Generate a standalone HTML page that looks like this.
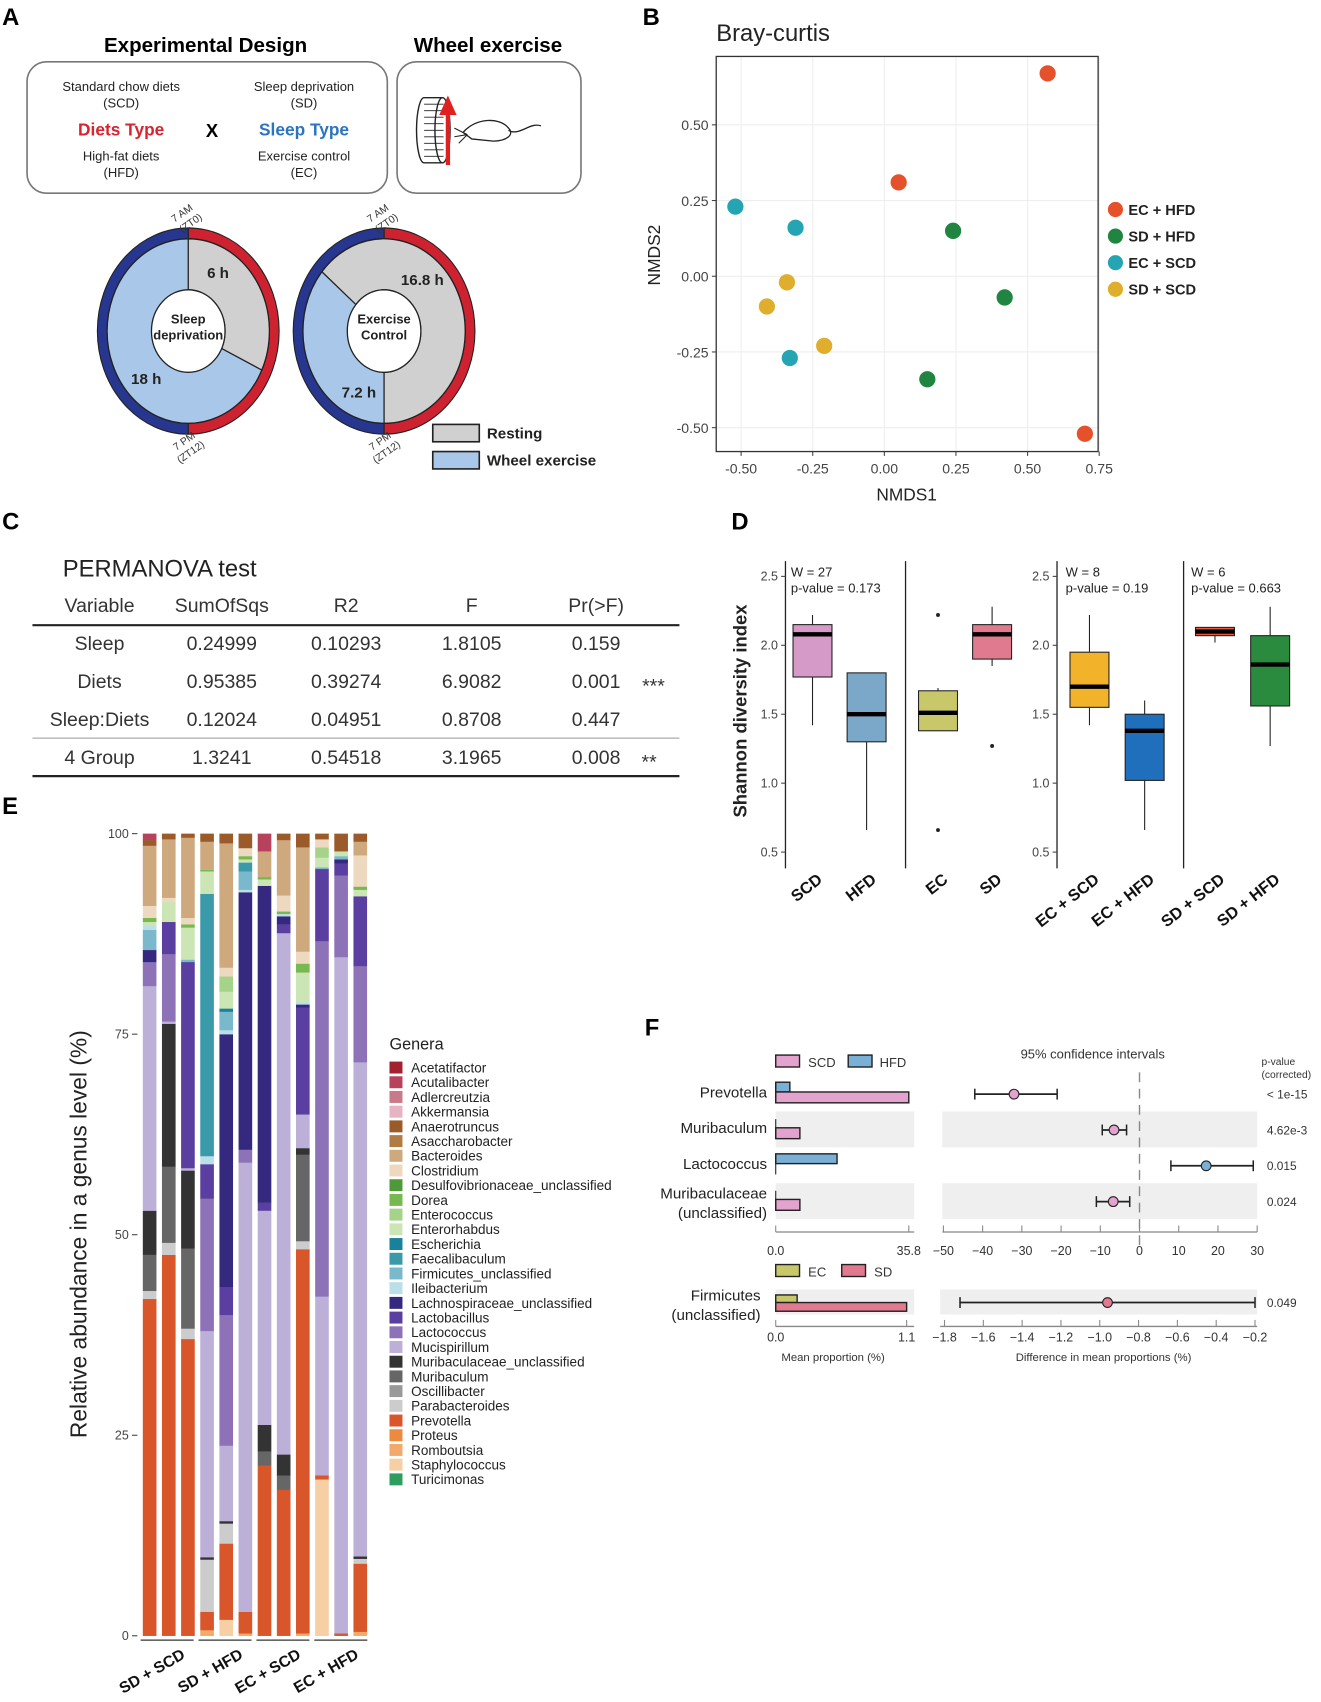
<!DOCTYPE html>
<html><head><meta charset="utf-8"><style>
html,body{margin:0;padding:0;background:#fff}
svg{display:block}
text{font-family:"Liberation Sans",Arial,sans-serif}
</style></head><body>
<svg id="fig" width="1321" height="1702" viewBox="0 0 1221 1568" preserveAspectRatio="none" xmlns="http://www.w3.org/2000/svg">
<rect width="1221" height="1568" fill="#fff"/>
<g font-weight="bold" font-size="22" fill="#000">
<text x="2" y="23">A</text><text x="594" y="23">B</text><text x="2" y="488">C</text>
<text x="676" y="488">D</text><text x="2" y="750">E</text><text x="596" y="954">F</text>
</g>

<g>
<text x="190" y="48" text-anchor="middle" font-size="19" font-weight="bold">Experimental Design</text>
<text x="451" y="48" text-anchor="middle" font-size="19" font-weight="bold">Wheel exercise</text>
<rect x="25" y="57" width="333" height="121" rx="18" fill="none" stroke="#777" stroke-width="1.5"/>
<rect x="367" y="57" width="170" height="121" rx="18" fill="none" stroke="#777" stroke-width="1.5"/>
<g font-size="12" text-anchor="middle" fill="#222">
<text x="112" y="84">Standard chow diets</text><text x="112" y="99">(SCD)</text>
<text x="112" y="148">High-fat diets</text><text x="112" y="163">(HFD)</text>
<text x="281" y="84">Sleep deprivation</text><text x="281" y="99">(SD)</text>
<text x="281" y="148">Exercise control</text><text x="281" y="163">(EC)</text>
</g>
<text x="112" y="125" text-anchor="middle" font-size="16" font-weight="bold" fill="#d9232e">Diets Type</text>
<text x="281" y="125" text-anchor="middle" font-size="16" font-weight="bold" fill="#2a74c0">Sleep Type</text>
<text x="196" y="126" text-anchor="middle" font-size="17" font-weight="bold">X</text>
<g>
<ellipse cx="392" cy="120" rx="7" ry="30" fill="#fff" stroke="#222" stroke-width="1.3"/>
<rect x="392" y="90" width="17" height="60" fill="#fff" stroke="none"/>
<g stroke="#222" stroke-width="0.8">
<line x1="392" y1="96" x2="410" y2="96"/><line x1="392" y1="102" x2="410" y2="102"/><line x1="392" y1="108" x2="410" y2="108"/><line x1="392" y1="114" x2="410" y2="114"/><line x1="392" y1="120" x2="410" y2="120"/><line x1="392" y1="126" x2="410" y2="126"/><line x1="392" y1="132" x2="410" y2="132"/><line x1="392" y1="138" x2="410" y2="138"/><line x1="392" y1="144" x2="410" y2="144"/>
</g>
<line x1="392" y1="90" x2="409" y2="90" stroke="#222" stroke-width="1.3"/>
<line x1="392" y1="150" x2="409" y2="150" stroke="#222" stroke-width="1.3"/>
<ellipse cx="409" cy="120" rx="7" ry="30" fill="none" stroke="#222" stroke-width="1.3"/>
<path d="M414 152 L414 102" stroke="#e02020" stroke-width="4"/>
<path d="M406 106 L414 88 L422 106 Z" fill="#e02020"/>
<path d="M428 122 C440 108 462 108 470 118 C476 124 468 130 456 130 L436 128 Z M470 120 C480 126 490 112 500 116" fill="none" stroke="#222" stroke-width="1.2"/>
<path d="M420 118 L432 124 M420 126 L432 124 M424 132 L432 124" stroke="#222" stroke-width="1"/>
</g>
</g>
<g id="donuts"></g>
<g>
<rect x="400" y="391" width="43" height="16" fill="#d0d0d0" stroke="#222" stroke-width="1.5"/>
<text x="450" y="404" font-size="14" font-weight="bold" fill="#222">Resting</text>
<rect x="400" y="416" width="43" height="16" fill="#a9c7e8" stroke="#222" stroke-width="1.5"/>
<text x="450" y="429" font-size="14" font-weight="bold" fill="#222">Wheel exercise</text>
</g>

<g id="scatter">
<text x="662" y="38" font-size="22" fill="#222">Bray-curtis</text>
</g>

<g>
<text x="58" y="531" font-size="22" fill="#222">PERMANOVA test</text>
<g font-size="18" fill="#333" text-anchor="middle">
<text x="92" y="564">Variable</text><text x="205" y="564">SumOfSqs</text><text x="320" y="564">R2</text><text x="436" y="564">F</text><text x="551" y="564">Pr(&gt;F)</text>
<text x="92" y="599">Sleep</text><text x="205" y="599">0.24999</text><text x="320" y="599">0.10293</text><text x="436" y="599">1.8105</text><text x="551" y="599">0.159</text>
<text x="92" y="634">Diets</text><text x="205" y="634">0.95385</text><text x="320" y="634">0.39274</text><text x="436" y="634">6.9082</text><text x="551" y="634">0.001</text>
<text x="92" y="669">Sleep:Diets</text><text x="205" y="669">0.12024</text><text x="320" y="669">0.04951</text><text x="436" y="669">0.8708</text><text x="551" y="669">0.447</text>
<text x="92" y="704">4 Group</text><text x="205" y="704">1.3241</text><text x="320" y="704">0.54518</text><text x="436" y="704">3.1965</text><text x="551" y="704">0.008</text>
<text x="604" y="638">***</text><text x="600" y="708">**</text>
</g>
<line x1="30" y1="576" x2="628" y2="576" stroke="#222" stroke-width="2"/>
<line x1="30" y1="680" x2="628" y2="680" stroke="#999" stroke-width="1"/>
<line x1="30" y1="715" x2="628" y2="715" stroke="#222" stroke-width="2"/>
</g>

<g id="boxes">
<text transform="translate(690,655) rotate(-90)" text-anchor="middle" font-size="17" font-weight="bold" fill="#222">Shannon diversity index</text>
</g>

<g id="stack">
<text transform="translate(80,1137) rotate(-90)" text-anchor="middle" font-size="21" fill="#222">Relative abundance in a genus level (%)</text>
<text x="360" y="967" font-size="15" fill="#222">Genera</text>
</g>

<g id="extbar"></g>
</svg>

<script>
var NS="http://www.w3.org/2000/svg";
function mk(parent,tag,attrs,txt){var e=document.createElementNS(NS,tag);for(var k in attrs)e.setAttribute(k,attrs[k]);if(txt!==undefined)e.textContent=txt;parent.appendChild(e);return e;}

/* ---------- Panel A donuts ---------- */
var donutNames=["Sleep deprivation","Exercise Control"];
var restStartDeg=[0,-50];
var restEndDeg=[115,180];
var restHours=["6 h","16.8 h"];
var exHours=["18 h","7.2 h"];
(function(){
 var g=document.getElementById('donuts');
 var centers=[[174,305],[355,305]];
 function pt(cx,cy,rx,ry,deg){var a=(deg-90)*Math.PI/180;return [cx+rx*Math.cos(a),cy+ry*Math.sin(a)];}
 function arc(cx,cy,rx,ry,rix,riy,d0,d1){var p0=pt(cx,cy,rx,ry,d0),p1=pt(cx,cy,rx,ry,d1),q1=pt(cx,cy,rix,riy,d1),q0=pt(cx,cy,rix,riy,d0);var lg=(d1-d0)>180?1:0;
  return "M"+p0+" A"+rx+" "+ry+" 0 "+lg+" 1 "+p1+" L"+q1+" A"+rix+" "+riy+" 0 "+lg+" 0 "+q0+" Z";}
 for(var i=0;i<2;i++){
  var cx=centers[i][0],cy=centers[i][1];
  var dg=mk(g,'g',{});
  
  
  mk(dg,'path',{d:arc(cx,cy,84,95,75,85,0,180),fill:'#cf2230',stroke:'#222','stroke-width':1});
  mk(dg,'path',{d:arc(cx,cy,84,95,75,85,180,360),fill:'#27368f',stroke:'#222','stroke-width':1});
  var s=restStartDeg[i],e=restEndDeg[i];
  mk(dg,'ellipse',{cx:cx,cy:cy,rx:75,ry:85,fill:'#a9c7e8',stroke:'#222','stroke-width':1.2});
  mk(dg,'path',{d:arc(cx,cy,75,85,34,38,s,e),fill:'#d0d0d0',stroke:'#222','stroke-width':1.2});
  mk(dg,'ellipse',{cx:cx,cy:cy,rx:34,ry:38,fill:'#fff',stroke:'#222','stroke-width':1.2});
  var w=donutNames[i].split(' ');
  mk(dg,'text',{x:cx,y:cy-7,'text-anchor':'middle','font-size':12,'font-weight':'bold',fill:'#222'},w[0]);
  mk(dg,'text',{x:cx,y:cy+8,'text-anchor':'middle','font-size':12,'font-weight':'bold',fill:'#222'},w[1]);
  var rp=pt(cx,cy,55,62,i==0?30:40), ep=pt(cx,cy,55,62,i==0?225:205);
  mk(dg,'text',{x:rp[0],y:rp[1]+5,'text-anchor':'middle','font-size':14,'font-weight':'bold',fill:'#222'},restHours[i]);
  mk(dg,'text',{x:ep[0],y:ep[1]+5,'text-anchor':'middle','font-size':14,'font-weight':'bold',fill:'#222'},exHours[i]);
  mk(dg,'text',{transform:'translate('+(cx-4)+','+(cy-106)+') rotate(-35)','text-anchor':'middle','font-size':9.5,fill:'#333'},'7 AM');
  mk(dg,'text',{transform:'translate('+(cx+4)+','+(cy-97)+') rotate(-35)','text-anchor':'middle','font-size':9.5,fill:'#333'},'(ZT0)');
  mk(dg,'text',{transform:'translate('+(cx-2)+','+(cy+104)+') rotate(-35)','text-anchor':'middle','font-size':9.5,fill:'#333'},'7 PM');
  mk(dg,'text',{transform:'translate('+(cx+4)+','+(cy+114)+') rotate(-35)','text-anchor':'middle','font-size':9.5,fill:'#333'},'(ZT12)');
 }
})();

/* ---------- Panel B scatter ---------- */
var groupNames=["EC + HFD","SD + HFD","EC + SCD","SD + SCD"];
var groupColors=["#e4512a","#1f8540","#25a5b4","#dfae2c"];
var nmds1=[[0.57,0.05,0.70],[0.24,0.42,0.15],[-0.52,-0.31,-0.33],[-0.34,-0.41,-0.21]];
var nmds2=[[0.67,0.31,-0.52],[0.15,-0.07,-0.34],[0.23,0.16,-0.27],[-0.02,-0.10,-0.23]];
var xTicksB=[-0.5,-0.25,0,0.25,0.5,0.75];
var xTickLabB=["-0.50","-0.25","0.00","0.25","0.50","0.75"];
var yTicksB=[0.5,0.25,0,-0.25,-0.5];
var yTickLabB=["0.50","0.25","0.00","-0.25","-0.50"];
(function(){
 var g=document.getElementById('scatter');
 function X(v){return 685+(v+0.5)*264.8;} function Y(v){return 254.5-v*279;}
 var L=662,R=1015,T=52,B=416;
 for(var i=0;i<xTicksB.length;i++){var x=X(xTicksB[i]);mk(g,'line',{x1:x,y1:T,x2:x,y2:B,stroke:'#eee','stroke-width':1});
  mk(g,'line',{x1:x,y1:B,x2:x,y2:B+4,stroke:'#444'});
  var t=mk(g,'text',{x:x,y:B+20,'text-anchor':'middle','font-size':13,fill:'#444'},xTickLabB[i]);
  
  }
 for(var i=0;i<yTicksB.length;i++){var y=Y(yTicksB[i]);mk(g,'line',{x1:L,y1:y,x2:R,y2:y,stroke:'#eee','stroke-width':1});
  mk(g,'line',{x1:L-4,y1:y,x2:L,y2:y,stroke:'#444'});
  var t=mk(g,'text',{x:L-7,y:y+5,'text-anchor':'end','font-size':13,fill:'#444'},yTickLabB[i]);
  
  }
 mk(g,'rect',{x:L,y:T,width:R-L,height:B-T,fill:'none',stroke:'#333','stroke-width':1.2});
 for(var k=0;k<groupNames.length;k++){
  for(var j=0;j<nmds1[k].length;j++){var c=mk(g,'circle',{cx:X(nmds1[k][j]),cy:Y(nmds2[k][j]),r:7.5,fill:groupColors[k]});
   
   }
  var ly=193+k*24.5;
  var le=mk(g,'g',{});
  
  
  mk(le,'circle',{cx:1031,cy:ly,r:7,fill:groupColors[k]});
  mk(le,'text',{x:1043,y:ly+5,'font-size':13.5,'font-weight':'bold',fill:'#222'},groupNames[k]);
 }
 var a=mk(g,'text',{x:838,y:461,'text-anchor':'middle','font-size':16,fill:'#222'},'NMDS1');
 
 var b=mk(g,'text',{transform:'translate(610,235) rotate(-90)','text-anchor':'middle','font-size':16,fill:'#222'},'NMDS2');
 
})();

/* ---------- Panel D boxplots ---------- */
var boxLabels=["SCD","HFD","EC","SD","EC + SCD","EC + HFD","SD + SCD","SD + HFD"];
var boxColors=["#d59ac8","#7ba7c9","#c8c86b","#e07a8e","#f2b32b","#1f6fbd","#e8593c","#2a8a3e"];
var boxQ1=[1.77,1.30,1.38,1.90,1.55,1.02,2.07,1.56];
var boxMed=[2.08,1.50,1.51,2.08,1.70,1.38,2.10,1.86];
var boxQ3=[2.15,1.80,1.67,2.15,1.95,1.50,2.13,2.07];
var boxLo=[1.42,0.66,1.40,1.85,1.42,0.66,2.02,1.27];
var boxHi=[2.22,1.80,1.69,2.28,2.22,1.60,2.13,2.28];
var boxOut=[[],[],[2.22,0.66],[1.27],[],[],[],[]];
var facetW=["W = 27","W = 8","W = 6"];
var facetP=["p-value = 0.173","p-value = 0.19","p-value = 0.663"];
var yTicksD=[2.5,2.0,1.5,1.0,0.5];
var yTickLabD=["2.5","2.0","1.5","1.0","0.5"];
(function(){
 var g=document.getElementById('boxes');
 function Y(v){return 785-(v-0.5)*127;}
 var boxX=[751,801,867,917,1007,1058,1123,1174];
 var lines=[726,837,977,1094];
 for(var i=0;i<lines.length;i++)mk(g,'line',{x1:lines[i],y1:517,x2:lines[i],y2:800,stroke:'#222','stroke-width':1.2});
 var axes=[726,977];
 for(var a=0;a<2;a++)for(var i=0;i<yTicksD.length;i++){var y=Y(yTicksD[i]);
  mk(g,'line',{x1:axes[a]-4,y1:y,x2:axes[a],y2:y,stroke:'#444'});
  var t=mk(g,'text',{x:axes[a]-7,y:y+4,'text-anchor':'end','font-size':11.5,fill:'#444'},yTickLabD[i]);
  }
 var annX=[731,985,1101];
 for(var i=0;i<3;i++){mk(g,'text',{x:annX[i],y:531,'font-size':12,fill:'#222'},facetW[i]);mk(g,'text',{x:annX[i],y:546,'font-size':12,fill:'#222'},facetP[i]);}
 for(var i=0;i<boxLabels.length;i++){
  var cx=boxX[i],w=36;
  var bg=mk(g,'g',{});
  
  
  mk(bg,'line',{x1:cx,y1:Y(boxLo[i]),x2:cx,y2:Y(boxHi[i]),stroke:'#222','stroke-width':1});
  mk(bg,'rect',{x:cx-w/2,y:Y(boxQ3[i]),width:w,height:Math.max(1,Y(boxQ1[i])-Y(boxQ3[i])),fill:boxColors[i],stroke:'#222','stroke-width':1});
  mk(bg,'line',{x1:cx-w/2,y1:Y(boxMed[i]),x2:cx+w/2,y2:Y(boxMed[i]),stroke:'#000','stroke-width':4});
  for(var j=0;j<boxOut[i].length;j++)mk(bg,'circle',{cx:cx,cy:Y(boxOut[i][j]),r:1.8,fill:'#222'});
  var t=mk(g,'text',{transform:'translate('+(cx+10)+',812) rotate(-38)','text-anchor':'end','font-size':15,'font-weight':'bold',fill:'#111'},boxLabels[i]);
  
 }
})();

/* ---------- Panel E stacked bars ---------- */
var genera=["Acetatifactor","Acutalibacter","Adlercreutzia","Akkermansia","Anaerotruncus","Asaccharobacter","Bacteroides","Clostridium","Desulfovibrionaceae_unclassified","Dorea","Enterococcus","Enterorhabdus","Escherichia","Faecalibaculum","Firmicutes_unclassified","Ileibacterium","Lachnospiraceae_unclassified","Lactobacillus","Lactococcus","Mucispirillum","Muribaculaceae_unclassified","Muribaculum","Oscillibacter","Parabacteroides","Prevotella","Proteus","Romboutsia","Staphylococcus","Turicimonas"];
var generaColors=["#a3202e","#b8415b","#c87a8a","#e6b3c3","#9a5a2a","#b07b45","#cfa97e","#ecd9bf","#4e9a3a","#78b94f","#a6d38a","#cbe5b5","#18819b","#3a9aaa","#7ab8cc","#b9dfe8","#35287f","#5a3fa0","#8d72b8","#bdb0d8","#333333","#666666","#999999","#cccccc","#d9552a","#ec8a40","#f2a96a","#f6cfa4","#2e9e5e"];
var groupsE=["SD + SCD","SD + HFD","EC + SCD","EC + HFD"];
var sample1=[["Prevotella",42],["Parabacteroides",1],["Muribaculum",4.5],["Muribaculaceae_unclassified",5.5],["Mucispirillum",28],["Lactococcus",3],["Lachnospiraceae_unclassified",1.5],["Firmicutes_unclassified",2.5],["Ileibacterium",0.5],["Enterorhabdus",0.5],["Dorea",0.5],["Clostridium",1.5],["Bacteroides",7.5],["Anaerotruncus",0.7],["Acutalibacter",0.8]];
var sample2=[["Prevotella",47.5],["Parabacteroides",1.5],["Muribaculum",9.5],["Muribaculaceae_unclassified",17.8],["Mucispirillum",0.3],["Lactococcus",8.4],["Lactobacillus",4],["Enterorhabdus",2.5],["Clostridium",0.5],["Bacteroides",7.3],["Anaerotruncus",0.7]];
var sample3=[["Prevotella",37],["Parabacteroides",1.3],["Muribaculum",10],["Muribaculaceae_unclassified",9.7],["Mucispirillum",0.3],["Lactobacillus",25.7],["Firmicutes_unclassified",0.3],["Enterorhabdus",4],["Dorea",0.4],["Clostridium",0.8],["Bacteroides",10],["Anaerotruncus",0.5]];
var sample4=[["Romboutsia",0.7],["Prevotella",2.3],["Parabacteroides",6.5],["Muribaculaceae_unclassified",0.3],["Mucispirillum",28.2],["Lactococcus",16.5],["Lactobacillus",4.3],["Ileibacterium",1],["Faecalibaculum",32.7],["Enterorhabdus",2.8],["Dorea",0.2],["Bacteroides",3.5],["Anaerotruncus",1]];
var sample5=[["Staphylococcus",2],["Prevotella",9.5],["Parabacteroides",2.5],["Muribaculaceae_unclassified",0.3],["Mucispirillum",9.4],["Lactococcus",16.3],["Lactobacillus",3.5],["Lachnospiraceae_unclassified",31.5],["Ileibacterium",0.5],["Firmicutes_unclassified",2.3],["Escherichia",0.4],["Enterorhabdus",2.1],["Enterococcus",1.9],["Clostridium",1.1],["Bacteroides",15.5],["Anaerotruncus",1.2]];
var sample6=[["Romboutsia",0.3],["Prevotella",2.7],["Mucispirillum",56],["Lactococcus",1.6],["Lachnospiraceae_unclassified",32.1],["Ileibacterium",0.3],["Firmicutes_unclassified",2.3],["Faecalibaculum",1.1],["Enterorhabdus",0.4],["Dorea",0.4],["Clostridium",1],["Anaerotruncus",1.8]];
var sample7=[["Prevotella",21.2],["Muribaculum",1.8],["Muribaculaceae_unclassified",3.3],["Mucispirillum",26.7],["Lactobacillus",1],["Lachnospiraceae_unclassified",39.5],["Enterorhabdus",0.8],["Dorea",0.3],["Bacteroides",3.2],["Acutalibacter",2.2]];
var sample8=[["Prevotella",18.2],["Muribaculum",1.8],["Muribaculaceae_unclassified",2.6],["Mucispirillum",65],["Lactobacillus",1.1],["Lachnospiraceae_unclassified",1],["Ileibacterium",0.3],["Dorea",0.3],["Clostridium",2],["Bacteroides",6.9],["Anaerotruncus",0.8]];
var sample9=[["Romboutsia",0.3],["Prevotella",47.9],["Parabacteroides",1],["Muribaculum",10.8],["Muribaculaceae_unclassified",0.8],["Mucispirillum",4.2],["Lactobacillus",13.3],["Lachnospiraceae_unclassified",0.4],["Ileibacterium",0.3],["Enterorhabdus",3.7],["Dorea",1.1],["Clostridium",1.5],["Bacteroides",13],["Anaerotruncus",1.7]];
var sample10=[["Staphylococcus",19.5],["Prevotella",0.5],["Mucispirillum",22.3],["Lactococcus",44.3],["Lactobacillus",9],["Firmicutes_unclassified",0.2],["Enterorhabdus",1.2],["Enterococcus",1.3],["Clostridium",1],["Anaerotruncus",0.7]];
var sample11=[["Prevotella",0.3],["Mucispirillum",84.3],["Lactococcus",10.2],["Lactobacillus",1.5],["Lachnospiraceae_unclassified",0.5],["Firmicutes_unclassified",0.4],["Enterorhabdus",0.6],["Anaerotruncus",2.2]];
var sample12=[["Romboutsia",0.5],["Prevotella",8.5],["Parabacteroides",0.6],["Muribaculaceae_unclassified",0.3],["Mucispirillum",61.6],["Lactococcus",12],["Lactobacillus",8.7],["Enterorhabdus",0.8],["Dorea",0.4],["Clostridium",3.9],["Bacteroides",1.7],["Anaerotruncus",1]];
var samples=[sample1,sample2,sample3,sample4,sample5,sample6,sample7,sample8,sample9,sample10,sample11,sample12];
var yTicksE=[0,25,50,75,100];
var yTickLabE=["0","25","50","75","100"];
(function(){
 var g=document.getElementById('stack');
 function Y(v){return 1507-v*7.39;}
 function colorOf(n){return generaColors[genera.indexOf(n)];}
 for(var i=0;i<yTicksE.length;i++){var y=Y(yTicksE[i]);
  mk(g,'line',{x1:122,y1:y,x2:127,y2:y,stroke:'#444'});
  var t=mk(g,'text',{x:119,y:y+4,'text-anchor':'end','font-size':11.5,fill:'#444'},yTickLabE[i]);
  }
 for(var s=0;s<samples.length;s++){
  var x=132+s*17.7,acc=0;
  var bg=mk(g,'g',{});
  
  
  for(var k=0;k<samples[s].length;k++){var v=samples[s][k][1];
   mk(bg,'rect',{x:x,y:Y(acc+v),width:12.6,height:v*7.39+0.15,fill:colorOf(samples[s][k][0])});acc+=v;}
 }
 for(var gi=0;gi<4;gi++){var x0=130+gi*53.5;
  mk(g,'line',{x1:x0,y1:1511,x2:x0+49,y2:1511,stroke:'#333','stroke-width':1.2});
  var t=mk(g,'text',{transform:'translate('+(x0+42)+',1527) rotate(-30)','text-anchor':'end','font-size':14.5,'font-weight':'bold',fill:'#111'},groupsE[gi]);
  }
 for(var i=0;i<genera.length;i++){var y=978+i*13.55;
  var le=mk(g,'g',{});
  
  
  mk(le,'rect',{x:360,y:y,width:12,height:11,fill:generaColors[i]});
  mk(le,'text',{x:380,y:y+10,'font-size':12.5,fill:'#222'},genera[i]);}
})();

/* ---------- Panel F extended error bar ---------- */
var taxaF=["Prevotella","Muribaculum","Lactococcus","Muribaculaceae"];
var meanSCD=[35.8,6.5,0,6.5];
var meanHFD=[3.8,0,16.5,0];
var diffF=[-32,-6.5,17,-6.7];
var ciLoF=[-42,-9.5,8,-11];
var ciHiF=[-21,-3.3,29,-2.5];
var pvalF=["< 1e-15","4.62e-3","0.015","0.024"];
var diffTicks=[-50,-40,-30,-20,-10,0,10,20,30];
var diffTickLab=["\u221250","\u221240","\u221230","\u221220","\u221210","0","10","20","30"];
var meanEC=[0.18];
var meanSD=[1.1];
var diff2=[-0.96];
var ci2Lo=[-1.72];
var ci2Hi=[-0.2];
var pval2=["0.049"];
var diff2Ticks=[-1.8,-1.6,-1.4,-1.2,-1.0,-0.8,-0.6,-0.4,-0.2];
var diff2TickLab=["\u22121.8","\u22121.6","\u22121.4","\u22121.2","\u22121.0","\u22120.8","\u22120.6","\u22120.4","\u22120.2"];
(function(){
 var g=document.getElementById('extbar');
 var rowY=[1008,1041,1074,1107];
 var PX=function(v){return 717+v/35.8*123;};
 var DX=function(v){return 872+(v+50)/80*290;};
 mk(g,'rect',{x:717,y:972,width:22,height:11,fill:'#e4a3cf',stroke:'#222','stroke-width':1.3});
 mk(g,'text',{x:747,y:983,'font-size':12,fill:'#333'},'SCD');
 mk(g,'rect',{x:784,y:972,width:22,height:11,fill:'#7ab0d6',stroke:'#222','stroke-width':1.3});
 mk(g,'text',{x:813,y:983,'font-size':12,fill:'#333'},'HFD');
 mk(g,'text',{x:1010,y:975,'text-anchor':'middle','font-size':12,fill:'#333'},'95% confidence intervals');
 mk(g,'text',{x:1166,y:981,'font-size':9.5,fill:'#333'},'p-value');
 mk(g,'text',{x:1166,y:993,'font-size':9.5,fill:'#333'},'(corrected)');
 for(var i=0;i<taxaF.length;i++){var y=rowY[i];
  if(i%2==1){mk(g,'rect',{x:717,y:y-17,width:128,height:33,fill:'#efefef'});mk(g,'rect',{x:871,y:y-17,width:291,height:33,fill:'#efefef'});}
  var lab=taxaF[i];
  if(lab=="Muribaculaceae"){mk(g,'text',{x:709,y:y-3,'text-anchor':'end','font-size':14,fill:'#222'},'Muribaculaceae');mk(g,'text',{x:709,y:y+15,'text-anchor':'end','font-size':14,fill:'#222'},'(unclassified)');}
  else mk(g,'text',{x:709,y:y+3,'text-anchor':'end','font-size':14,fill:'#222'},lab);
  if(meanHFD[i]>0){var r=mk(g,'rect',{x:717,y:y-11,width:PX(meanHFD[i])-717,height:9,fill:'#7ab0d6',stroke:'#222','stroke-width':1.3});}
  if(meanSCD[i]>0){var r=mk(g,'rect',{x:717,y:y-2,width:PX(meanSCD[i])-717,height:10,fill:'#e4a3cf',stroke:'#222','stroke-width':1.3});}
  mk(g,'line',{x1:717,y1:y-10,x2:717,y2:y+8,stroke:'#222','stroke-width':1});
  mk(g,'line',{x1:DX(ciLoF[i]),y1:y,x2:DX(ciHiF[i]),y2:y,stroke:'#222','stroke-width':1.6});
  mk(g,'line',{x1:DX(ciLoF[i]),y1:y-5,x2:DX(ciLoF[i]),y2:y+5,stroke:'#222','stroke-width':1.4});
  mk(g,'line',{x1:DX(ciHiF[i]),y1:y-5,x2:DX(ciHiF[i]),y2:y+5,stroke:'#222','stroke-width':1.4});
  var c=mk(g,'circle',{cx:DX(diffF[i]),cy:y,r:4.5,fill:diffF[i]<0?'#e4a3cf':'#7ab0d6',stroke:'#222','stroke-width':1});
  
  mk(g,'text',{x:1171,y:y+4,'font-size':11,fill:'#333'},pvalF[i]);
 }
 mk(g,'line',{x1:DX(0),y1:988,x2:DX(0),y2:1150,stroke:'#888','stroke-width':1.3,'stroke-dasharray':'9,6'});
 mk(g,'line',{x1:717,y1:1135,x2:845,y2:1135,stroke:'#888','stroke-width':1.2});
 mk(g,'line',{x1:717,y1:1129,x2:717,y2:1135,stroke:'#888'});mk(g,'line',{x1:840,y1:1129,x2:840,y2:1135,stroke:'#888'});
 mk(g,'text',{x:717,y:1156,'text-anchor':'middle','font-size':11.5,fill:'#333'},'0.0');
 mk(g,'text',{x:840,y:1156,'text-anchor':'middle','font-size':11.5,fill:'#333'},'35.8');
 mk(g,'line',{x1:871,y1:1135,x2:1162,y2:1135,stroke:'#888','stroke-width':1.2});
 for(var i=0;i<diffTicks.length;i++){var x=DX(diffTicks[i]);mk(g,'line',{x1:x,y1:1129,x2:x,y2:1135,stroke:'#888'});
  var t=mk(g,'text',{x:x,y:1156,'text-anchor':'middle','font-size':11.5,fill:'#333'},diffTickLab[i]);
  }
 var PX2=function(v){return 717+v/1.1*121;};
 var DX2=function(v){return 873+(v+1.8)/1.6*287;};
 mk(g,'rect',{x:717,y:1165,width:22,height:11,fill:'#c8c86b',stroke:'#222','stroke-width':1.3});
 mk(g,'text',{x:747,y:1176,'font-size':12,fill:'#333'},'EC');
 mk(g,'rect',{x:778,y:1165,width:22,height:11,fill:'#e27a8f',stroke:'#222','stroke-width':1.3});
 mk(g,'text',{x:808,y:1176,'font-size':12,fill:'#333'},'SD');
 var y=1200;
 mk(g,'rect',{x:717,y:1188,width:128,height:23,fill:'#efefef'});
 mk(g,'rect',{x:869,y:1188,width:293,height:23,fill:'#efefef'});
 mk(g,'text',{x:703,y:1198,'text-anchor':'end','font-size':14,fill:'#222'},'Firmicutes');
 mk(g,'text',{x:703,y:1216,'text-anchor':'end','font-size':14,fill:'#222'},'(unclassified)');
 var r=mk(g,'rect',{x:717,y:1193,width:PX2(meanEC[0])-717,height:7,fill:'#c8c86b',stroke:'#222','stroke-width':1.3});
 r=mk(g,'rect',{x:717,y:1200,width:PX2(meanSD[0])-717,height:8,fill:'#e27a8f',stroke:'#222','stroke-width':1.3});
 mk(g,'line',{x1:DX2(ci2Lo[0]),y1:y,x2:DX2(ci2Hi[0]),y2:y,stroke:'#222','stroke-width':1.6});
 mk(g,'line',{x1:DX2(ci2Lo[0]),y1:y-5,x2:DX2(ci2Lo[0]),y2:y+5,stroke:'#222','stroke-width':1.4});
 mk(g,'line',{x1:DX2(ci2Hi[0]),y1:y-5,x2:DX2(ci2Hi[0]),y2:y+5,stroke:'#222','stroke-width':1.4});
 var c=mk(g,'circle',{cx:DX2(diff2[0]),cy:y,r:4.5,fill:'#e27a8f',stroke:'#222','stroke-width':1});
 
 mk(g,'text',{x:1171,y:y+4,'font-size':11,fill:'#333'},pval2[0]);
 mk(g,'line',{x1:717,y1:1222,x2:845,y2:1222,stroke:'#888','stroke-width':1.2});
 mk(g,'line',{x1:717,y1:1216,x2:717,y2:1222,stroke:'#888'});mk(g,'line',{x1:838,y1:1216,x2:838,y2:1222,stroke:'#888'});
 mk(g,'text',{x:717,y:1236,'text-anchor':'middle','font-size':11.5,fill:'#333'},'0.0');
 mk(g,'text',{x:838,y:1236,'text-anchor':'middle','font-size':11.5,fill:'#333'},'1.1');
 mk(g,'line',{x1:869,y1:1222,x2:1162,y2:1222,stroke:'#888','stroke-width':1.2});
 for(var i=0;i<diff2Ticks.length;i++){var x=DX2(diff2Ticks[i]);mk(g,'line',{x1:x,y1:1216,x2:x,y2:1222,stroke:'#888'});
  var t=mk(g,'text',{x:x,y:1236,'text-anchor':'middle','font-size':11.5,fill:'#333'},diff2TickLab[i]);
  }
 mk(g,'text',{x:770,y:1254,'text-anchor':'middle','font-size':10.5,fill:'#333'},'Mean proportion (%)');
 mk(g,'text',{x:1020,y:1254,'text-anchor':'middle','font-size':10.5,fill:'#333'},'Difference in mean proportions (%)');
})();
</script>
</body></html>
